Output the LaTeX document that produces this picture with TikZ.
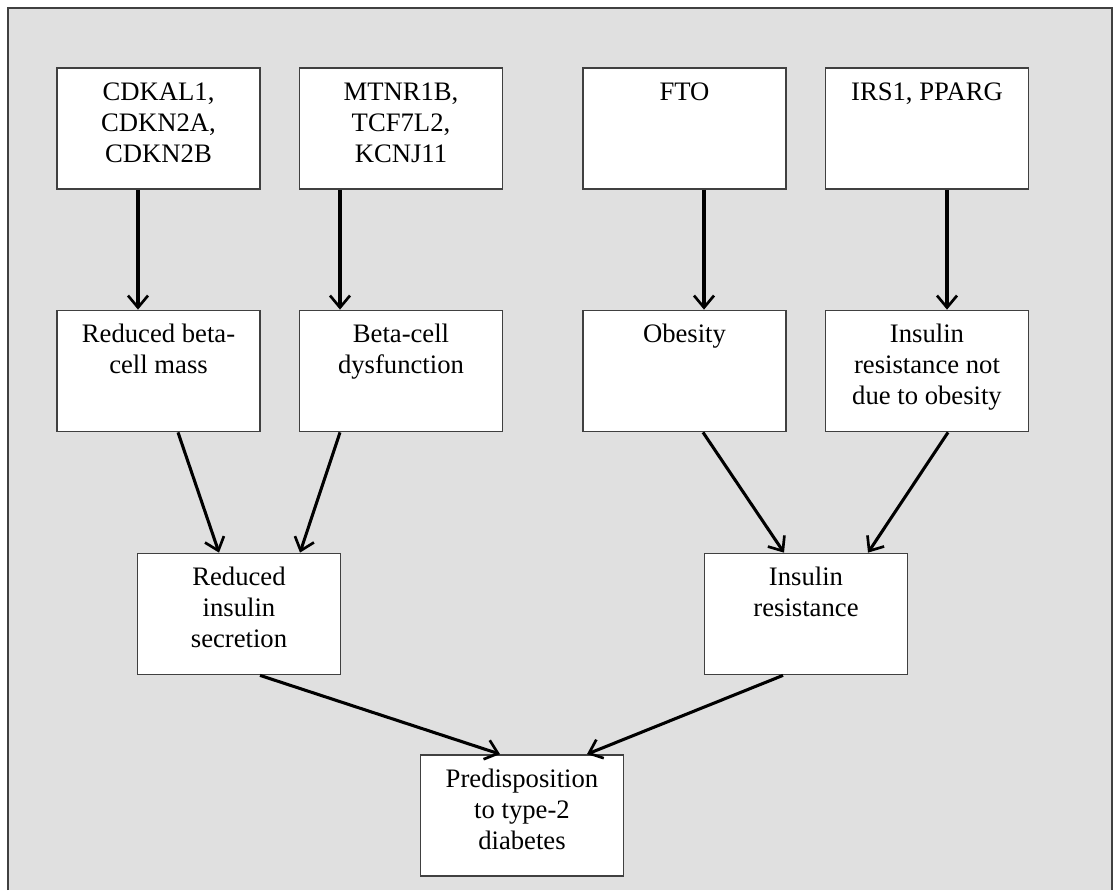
\documentclass[tikz,border=0pt]{standalone}
\usepackage{fontspec}
\setmainfont{Liberation Serif}
\usetikzlibrary{arrows.meta}
\usetikzlibrary{calc}
\definecolor{panelgray}{HTML}{E0E0E0}
\definecolor{framegray}{HTML}{404040}

\begin{document}
\begin{tikzpicture}[x=0.75pt,y=-0.75pt,
		box/.style={draw=framegray,line width=1.3pt,fill=white,minimum width=152.25pt,minimum height=90.75pt,inner sep=0pt},
		lbl/.style={anchor=base,align=center,inner sep=0pt,font=\fontsize{20}{23.25}\selectfont},
		arr/.style={line width=2.3pt,-{Straight Barb[length=9pt,width=15pt,line width=2pt]}}]
		\useasboundingbox (0,0) rectangle (1113,890);
		\fill[panelgray] (8,8) rectangle (1113,890);
		\draw[framegray,line width=1.4pt] (8,890) -- (8,8) -- (1112,8) -- (1112,890);
		% genes
		\node[box] (cdk) at (158.5,128.5) {};
		\node[box] (mtn) at (401,128.5) {};
		\node[box] (fto) at (684.5,128.5) {};
		\node[box] (irs) at (927,128.5) {};
		% effects
		\node[box] (rbm) at (158.5,371) {};
		\node[box] (bcd) at (401,371) {};
		\node[box] (obe) at (684.5,371) {};
		\node[box] (irn) at (927,371) {};
		% mechanisms
		\node[box] (ris) at (239,614) {};
		\node[box] (ire) at (806,614) {};
		% outcome
		\node[box] (pre) at (522,815.5) {};
		% texts (base = last line)
		\node[lbl] (cdktxt) at ($(cdk.north)+(0,95)$) {CDKAL1,\\CDKN2A,\\CDKN2B};
		\node[lbl] (mtntxt) at ($(mtn.north)+(0,95)$) {MTNR1B,\\TCF7L2,\\KCNJ11};
		\node[lbl] (ftotxt) at ($(fto.north)+(0,33)$) {FTO};
		\node[lbl] (irstxt) at ($(irs.north)+(0,33)$) {IRS1, PPARG};
		\node[lbl] (rbmtxt) at ($(rbm.north)+(0,64)$) {Reduced beta-\\cell mass};
		\node[lbl] (bcdtxt) at ($(bcd.north)+(0,64)$) {Beta-cell\\dysfunction};
		\node[lbl] (obetxt) at ($(obe.north)+(0,33)$) {Obesity};
		\node[lbl] (irntxt) at ($(irn.north)+(0,95)$) {Insulin\\resistance not\\due to obesity};
		\node[lbl] (ristxt) at ($(ris.north)+(0,95)$) {Reduced\\insulin\\secretion};
		\node[lbl] (iretxt) at ($(ire.north)+(0,64)$) {Insulin\\resistance};
		\node[lbl] (pretxt) at ($(pre.north)+(0,95)$) {Predisposition\\to type-2\\diabetes};
		% arrows
		\draw[arr] ($(cdk.south)+(-20.5,0)$) -- ($(rbm.north)+(-20.5,0)$);
		\draw[arr] ($(mtn.south)+(-61,0)$) -- ($(bcd.north)+(-61,0)$);
		\draw[arr] ($(fto.south)+(19.5,0)$) -- ($(obe.north)+(19.5,0)$);
		\draw[arr] ($(irs.south)+(20,0)$) -- ($(irn.north)+(20,0)$);
		\draw[arr] ($(rbm.south)+(19.5,0)$) -- ($(ris.north)+(-20,0)$);
		\draw[arr] ($(bcd.south)+(-61,0)$) -- ($(ris.north)+(61,0)$);
		\draw[arr] ($(obe.south)+(18.5,0)$) -- ($(ire.north)+(-22,0)$);
		\draw[arr] ($(irn.south)+(21,0)$) -- ($(ire.north)+(62,0)$);
		\draw[arr] ($(ris.south)+(21,0)$) -- ($(pre.north)+(-22,0)$);
		\draw[arr] ($(ire.south)+(-23,0)$) -- ($(pre.north)+(65,0)$);
\end{tikzpicture}
\end{document}
